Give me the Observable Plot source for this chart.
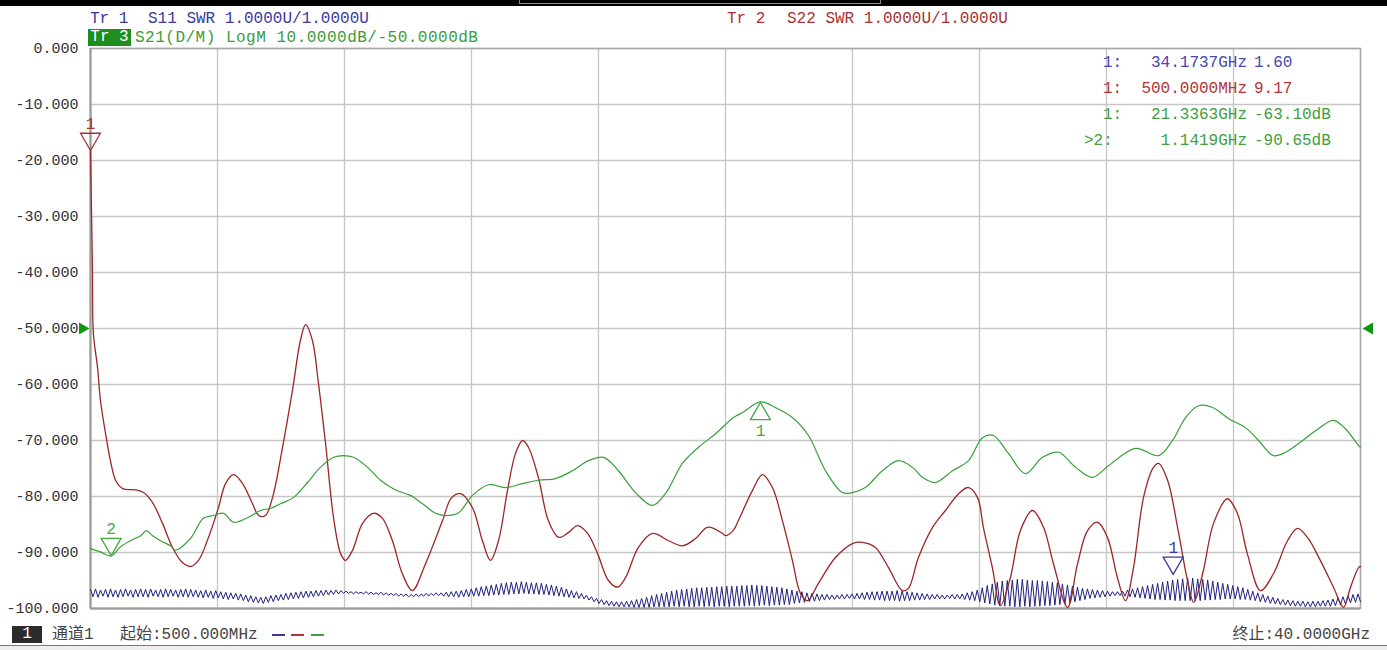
<!DOCTYPE html>
<html><head><meta charset="utf-8">
<script src="https://cdn.jsdelivr.net/npm/d3@7"></script>
<script src="https://cdn.jsdelivr.net/npm/@observablehq/plot@0.6"></script>
<style>
html,body{margin:0;padding:0;background:#fff;}
body{width:1387px;height:650px;overflow:hidden;position:relative;font-family:"Liberation Mono","Noto Sans CJK SC",monospace;}
#chart{position:absolute;left:0;top:0;}
.t{position:absolute;white-space:pre;font-size:16px;line-height:18px;}
</style></head><body>
<div id="chart"></div>
<script>
// ---- sweep / axes ----
const sweepStart = 0.5;   // GHz
const sweepStop = 40;     // GHz
const xGrid = [0.5, 4.45, 8.4, 12.35, 16.3, 20.25, 24.2, 28.15, 32.1, 36.05, 40];
const yTicks = [0, -10, -20, -30, -40, -50, -60, -70, -80, -90, -100];

// ---- Tr 3 : S21 (green), [GHz, dB] ----
const s21Trace = [
[0.50,-89.3],[0.81,-89.9],[1.15,-90.6],[1.43,-89.0],[1.74,-87.9],[2.06,-87.0],[2.24,-86.1],[2.43,-87.0],
[2.68,-87.9],[2.99,-88.8],[3.14,-89.6],[3.61,-87.5],[4.01,-83.9],[4.33,-83.4],[4.64,-83.0],[4.95,-84.6],
[5.38,-83.8],[5.79,-82.5],[6.10,-82.1],[6.41,-81.3],[6.81,-80.2],[7.25,-77.5],[7.65,-74.8],[8.06,-73.0],
[8.37,-72.7],[8.68,-73.0],[9.12,-74.8],[9.52,-77.1],[9.92,-78.6],[10.30,-79.5],[10.45,-79.8],[10.83,-81.3],
[11.23,-83.0],[11.54,-83.4],[11.95,-82.9],[12.38,-79.8],[12.88,-77.9],[13.41,-78.4],[13.94,-77.7],[14.43,-77.1],
[14.96,-76.8],[15.49,-75.4],[15.99,-73.6],[16.46,-73.0],[16.92,-75.4],[17.45,-79.3],[17.98,-81.6],[18.38,-79.5],
[18.91,-74.1],[19.41,-71.2],[19.94,-68.8],[20.50,-65.9],[20.78,-65.0],[21.34,-63.1],[21.80,-64.1],[22.33,-65.9],
[22.83,-69.1],[23.36,-75.4],[23.89,-79.3],[24.20,-79.3],[24.60,-78.4],[25.13,-75.4],[25.63,-73.6],[26.07,-74.8],
[26.38,-76.6],[26.78,-77.5],[27.31,-75.4],[27.81,-73.6],[28.24,-69.5],[28.58,-69.1],[29.05,-72.3],[29.58,-75.9],
[30.11,-73.0],[30.61,-72.1],[31.14,-74.8],[31.66,-76.6],[32.16,-74.5],[33.00,-71.4],[33.72,-72.7],[34.15,-70.0],
[34.56,-65.9],[34.96,-63.8],[35.40,-64.1],[35.90,-66.1],[36.42,-67.7],[36.83,-70.0],[37.29,-72.7],[37.67,-72.1],
[38.20,-70.0],[38.69,-67.9],[39.16,-66.4],[39.53,-67.9],[39.94,-70.9],[40.00,-71.2]
];

// ---- Tr 2 : S22 SWR (red), in display units of the grid ----
const s22Trace = [
[0.50,-18.3],[0.56,-39.1],[0.59,-50.9],[0.72,-57.0],[0.81,-62.9],[0.97,-68.8],[1.12,-73.6],[1.28,-77.1],
[1.50,-78.6],[1.90,-78.8],[2.15,-79.3],[2.43,-81.1],[2.74,-84.8],[3.05,-89.1],[3.36,-91.8],[3.61,-92.5],
[3.86,-91.4],[4.17,-87.3],[4.48,-82.0],[4.70,-77.7],[4.95,-76.1],[5.23,-77.7],[5.54,-81.3],[5.73,-83.4],
[5.94,-83.4],[6.16,-80.2],[6.47,-71.3],[6.78,-61.1],[7.03,-52.1],[7.19,-49.3],[7.40,-52.1],[7.59,-59.8],
[7.81,-70.5],[8.06,-83.8],[8.28,-90.2],[8.43,-91.4],[8.65,-89.6],[8.96,-84.8],[9.30,-83.0],[9.58,-83.9],
[9.89,-87.9],[10.20,-93.8],[10.51,-96.8],[10.92,-92.0],[11.45,-84.3],[11.73,-80.2],[12.01,-79.5],[12.38,-82.0],
[12.69,-87.9],[12.94,-91.4],[13.19,-87.9],[13.47,-78.9],[13.72,-72.3],[13.94,-70.0],[14.12,-71.2],[14.43,-76.6],
[14.74,-84.3],[15.06,-87.3],[15.37,-86.4],[15.65,-85.2],[15.96,-86.6],[16.27,-90.2],[16.61,-95.0],[16.89,-96.2],
[17.14,-94.5],[17.54,-89.1],[17.98,-86.6],[18.48,-87.9],[18.91,-88.8],[19.32,-87.5],[19.69,-85.5],[20.16,-86.6],
[20.25,-87.0],[20.50,-86.0],[20.65,-84.3],[21.09,-78.9],[21.40,-76.1],[21.71,-78.4],[22.02,-84.3],[22.33,-91.4],
[22.58,-97.3],[22.80,-98.6],[23.14,-95.5],[23.67,-90.9],[24.20,-88.4],[24.51,-88.2],[24.91,-89.1],[25.32,-92.7],
[25.75,-96.8],[25.94,-96.4],[26.25,-90.9],[26.69,-85.5],[27.09,-82.5],[27.50,-79.5],[27.81,-78.4],[28.09,-80.2],
[28.27,-85.5],[28.55,-92.7],[28.80,-99.5],[29.11,-94.5],[29.42,-86.1],[29.80,-82.5],[30.14,-85.5],[30.45,-92.0],
[30.89,-99.8],[31.20,-92.0],[31.51,-86.1],[31.82,-84.6],[32.13,-87.3],[32.44,-94.5],[32.69,-98.6],[32.94,-92.7],
[33.25,-80.2],[33.56,-74.8],[33.72,-74.1],[34.00,-77.1],[34.31,-85.5],[34.62,-95.0],[34.81,-98.9],[35.09,-93.8],
[35.43,-84.8],[35.86,-80.4],[36.17,-83.0],[36.48,-90.2],[36.89,-96.8],[37.29,-93.8],[37.73,-87.9],[38.04,-85.7],
[38.35,-87.3],[38.75,-91.4],[39.16,-96.2],[39.47,-99.8],[39.69,-96.2],[39.94,-92.7],[40.00,-92.5]
];

// ---- Tr 1 : S11 SWR (blue), uniform sweep points, display units ----
const s11Values = [
-96.6,-97.9,-96.5,-98.0,-96.7,-97.8,-96.6,-98.0,-96.5,-97.9,-96.7,-98.0,-96.6,-97.9,-96.5,-97.8,-96.7,-98.0,-96.6,-97.9,
-96.5,-97.9,-96.6,-98.0,-96.5,-97.8,-96.7,-97.9,-96.6,-98.0,-96.5,-97.9,-96.6,-97.8,-96.7,-98.0,-96.6,-97.9,-96.5,-98.0,
-96.6,-97.9,-96.7,-98.0,-96.8,-98.1,-96.7,-98.0,-96.9,-98.2,-96.8,-98.1,-97.0,-98.3,-97.1,-98.4,-97.2,-98.3,-97.3,-98.5,
-97.4,-98.6,-97.6,-98.8,-97.7,-98.9,-97.9,-99.0,-98.0,-99.1,-97.9,-98.9,-97.7,-98.8,-97.6,-98.6,-97.5,-98.5,-97.3,-98.4,
-97.2,-98.3,-97.1,-98.2,-97.0,-98.1,-96.9,-98.0,-96.9,-97.9,-96.8,-97.8,-96.8,-97.7,-96.7,-97.6,-96.8,-97.5,-96.7,-97.4,
-96.8,-97.3,-96.9,-97.3,-97.0,-97.4,-97.0,-97.3,-97.1,-97.4,-97.0,-97.4,-97.1,-97.5,-97.2,-97.5,-97.1,-97.6,-97.2,-97.6,
-97.3,-97.7,-97.3,-97.8,-97.4,-97.8,-97.4,-97.9,-97.5,-97.9,-97.4,-97.9,-97.4,-97.8,-97.3,-97.8,-97.3,-97.7,-97.2,-97.7,
-97.2,-97.8,-97.1,-97.9,-97.0,-97.9,-96.9,-98.0,-96.8,-97.9,-96.6,-97.9,-96.5,-97.8,-96.3,-97.8,-96.1,-97.7,-96.0,-97.7,
-95.8,-97.6,-95.7,-97.6,-95.5,-97.5,-95.4,-97.5,-95.3,-97.4,-95.3,-97.4,-95.2,-97.3,-95.3,-97.4,-95.4,-97.4,-95.4,-97.5,
-95.5,-97.5,-95.7,-97.6,-95.8,-97.7,-96.0,-97.8,-96.2,-97.9,-96.5,-98.0,-96.8,-98.1,-97.0,-98.2,-97.3,-98.3,-97.6,-98.5,
-97.9,-98.8,-98.2,-99.1,-98.4,-99.3,-98.6,-99.5,-98.7,-99.6,-98.8,-99.7,-98.8,-99.7,-98.7,-99.7,-98.6,-99.8,-98.4,-99.8,
-98.2,-99.8,-98.0,-99.8,-97.7,-99.7,-97.5,-99.7,-97.3,-99.7,-97.1,-99.7,-96.9,-99.6,-96.7,-99.7,-96.6,-99.6,-96.5,-99.7,
-96.4,-99.7,-96.3,-99.6,-96.3,-99.7,-96.2,-99.6,-96.2,-99.7,-96.1,-99.6,-96.1,-99.6,-96.0,-99.7,-96.0,-99.6,-96.0,-99.6,
-95.9,-99.6,-95.9,-99.5,-95.8,-99.6,-95.9,-99.5,-95.9,-99.4,-96.0,-99.5,-96.1,-99.4,-96.2,-99.4,-96.3,-99.3,-96.5,-99.3,
-96.7,-99.1,-96.9,-99.0,-97.0,-98.9,-97.2,-98.8,-97.3,-98.7,-97.4,-98.6,-97.5,-98.5,-97.5,-98.4,-97.6,-98.4,-97.6,-98.3,
-97.5,-98.3,-97.5,-98.2,-97.4,-98.3,-97.3,-98.3,-97.2,-98.4,-97.1,-98.4,-97.0,-98.5,-97.0,-98.5,-96.9,-98.6,-96.9,-98.6,
-96.9,-98.6,-96.8,-98.7,-96.9,-98.6,-97.0,-98.6,-97.1,-98.5,-97.2,-98.5,-97.3,-98.4,-97.4,-98.4,-97.5,-98.3,-97.5,-98.3,
-97.6,-98.3,-97.6,-98.2,-97.5,-98.3,-97.5,-98.3,-97.4,-98.4,-97.2,-98.5,-97.0,-98.6,-96.7,-98.8,-96.3,-99.0,-95.9,-99.2,
-95.6,-99.4,-95.3,-99.5,-95.1,-99.6,-95.0,-99.6,-94.9,-99.7,-94.8,-99.7,-94.8,-99.6,-94.9,-99.7,-95.0,-99.6,-95.0,-99.6,
-95.1,-99.5,-95.2,-99.5,-95.3,-99.4,-95.4,-99.3,-95.6,-99.2,-95.8,-99.0,-96.0,-98.8,-96.2,-98.6,-96.4,-98.4,-96.5,-98.2,
-96.6,-98.1,-96.7,-98.0,-96.8,-97.9,-96.9,-97.8,-97.0,-97.7,-97.0,-97.7,-96.9,-97.8,-96.7,-97.9,-96.5,-98.0,-96.3,-98.1,
-96.1,-98.2,-95.9,-98.3,-95.7,-98.4,-95.5,-98.4,-95.3,-98.5,-95.1,-98.5,-94.9,-98.6,-94.8,-98.6,-94.7,-98.6,-94.6,-98.6,
-94.6,-98.6,-94.7,-98.6,-94.8,-98.5,-94.9,-98.5,-95.1,-98.4,-95.3,-98.4,-95.5,-98.3,-95.7,-98.3,-95.9,-98.3,-96.1,-98.4,
-96.3,-98.4,-96.6,-98.5,-96.9,-98.6,-97.2,-98.8,-97.5,-98.9,-97.8,-99.1,-98.0,-99.2,-98.2,-99.3,-98.4,-99.4,-98.5,-99.5,
-98.6,-99.6,-98.7,-99.6,-98.7,-99.7,-98.8,-99.7,-98.7,-99.7,-98.7,-99.6,-98.6,-99.6,-98.5,-99.6,-98.3,-99.5,-98.1,-99.4,
-97.9,-99.2,-97.7,-99.0,-97.5,-98.9,-97.4,-98.8
];

// ---- markers ----
const markers = [
  {trace:"Tr2", f:0.5, v:-18.3, label:"1", dir:"down", color:"#a83030"},
  {trace:"Tr3", f:1.1419, v:-90.65, label:"2", dir:"down", color:"#44a844"},
  {trace:"Tr3", f:21.3363, v:-63.10, label:"1", dir:"up", color:"#44a844"},
  {trace:"Tr1", f:34.1737, v:-94.0, label:"1", dir:"down", color:"#3a3aa0"}
];
const refLevel = -50;

const cBlue = "#1f1f80", cRed = "#9c2626", cGreen = "#38a038";

const s11Data = s11Values.map((v, i) => ({f: sweepStart + i * (sweepStop - sweepStart) / (s11Values.length - 1), v}));
const s21Data = s21Trace.map(([f, v]) => ({f, v}));
const s22Data = s22Trace.map(([f, v]) => ({f, v}));
const downMk = markers.filter(d => d.dir === "down");
const upMk = markers.filter(d => d.dir === "up");

const plot = Plot.plot({
  width: 1387, height: 650,
  marginLeft: 90, marginRight: 27, marginTop: 48, marginBottom: 42,
  x: {domain: [sweepStart, sweepStop], axis: null},
  y: {domain: [-100, 0], ticks: yTicks, tickFormat: d => d.toFixed(3), tickSize: 0, tickPadding: 12, label: null},
  style: {fontFamily: "Liberation Mono, monospace", fontSize: "15px", color: "#333", background: "#fff", overflow: "visible"},
  marks: [
    Plot.ruleX(xGrid, {stroke: "#c6c6c6", strokeWidth: 1.3}),
    Plot.ruleY(yTicks, {stroke: "#c6c6c6", strokeWidth: 1.3}),
    Plot.frame({stroke: "#a8a8a8", strokeWidth: 1.5}),
    Plot.ruleX([sweepStart], {stroke: "#9a9a9a", strokeWidth: 2}),
    Plot.ruleY([-100], {stroke: "#9a9a9a", strokeWidth: 2}),
    Plot.line(s11Data, {x: "f", y: "v", stroke: cBlue, strokeWidth: 1}),
    Plot.line(s22Data, {x: "f", y: "v", stroke: cRed, strokeWidth: 1.3, curve: "catmull-rom"}),
    Plot.line(s21Data, {x: "f", y: "v", stroke: cGreen, strokeWidth: 1.2, curve: "catmull-rom"}),
    Plot.dot([{f: sweepStart, v: refLevel}], {x: "f", y: "v", symbol: "triangle", rotate: 90, r: 4.5, fill: "#0e960e", stroke: null, dx: -8}),
    Plot.dot([{f: sweepStop, v: refLevel}], {x: "f", y: "v", symbol: "triangle", rotate: -90, r: 4.5, fill: "#0e960e", stroke: null, dx: 9}),
    Plot.dot(downMk, {x: "f", y: "v", symbol: "triangle", rotate: 180, r: 7.4, fill: "none", stroke: "color", strokeWidth: 1.3, dy: -12}),
    Plot.dot(upMk, {x: "f", y: "v", symbol: "triangle", r: 7.4, fill: "none", stroke: "color", strokeWidth: 1.3, dy: 12}),
    Plot.text(downMk, {x: "f", y: "v", text: "label", fill: "color", dy: -27, fontSize: 16}),
    Plot.text(upMk, {x: "f", y: "v", text: "label", fill: "color", dy: 29, fontSize: 16})
  ]
});
document.getElementById("chart").appendChild(plot);

// ---- text overlays ----
const texts = [
  {s:"Tr 1", x:90, y:19, c:"#3b3b9b"},
  {s:"S11 SWR 1.0000U/1.0000U", x:148, y:19, c:"#3b3b9b"},
  {s:"Tr 2", x:727, y:19, c:"#a83232"},
  {s:"S22 SWR 1.0000U/1.0000U", x:787, y:19, c:"#a83232"},
  {s:"1:", x:1103, y:63, c:"#4646b0"},
  {s:"1:", x:1103, y:89, c:"#b03535"},
  {s:"1:", x:1103, y:115, c:"#40a040"},
  {s:">2:", x:1084, y:141, c:"#40a040"},
  {s:"1.60", x:1254, y:63, c:"#4646b0"},
  {s:"9.17", x:1254, y:89, c:"#b03535"},
  {s:"-63.10dB", x:1254, y:115, c:"#40a040"},
  {s:"-90.65dB", x:1254, y:141, c:"#40a040"},
  {s:"通道1", x:52, y:635, c:"#444"},
  {s:"起始:500.000MHz", x:120, y:635, c:"#444"}
];
const rtexts = [
  {s:"34.1737GHz", r:1247, y:63, c:"#4646b0"},
  {s:"500.0000MHz", r:1247, y:89, c:"#b03535"},
  {s:"21.3363GHz", r:1247, y:115, c:"#40a040"},
  {s:"1.1419GHz", r:1247, y:141, c:"#40a040"},
  {s:"终止:40.0000GHz", r:1370, y:635, c:"#444"}
];
function addText(str, css){const d=document.createElement("div");d.className="t";d.textContent=str;Object.assign(d.style,css);document.body.appendChild(d);return d;}
function addBox(css){const d=document.createElement("div");d.style.position="absolute";Object.assign(d.style,css);document.body.appendChild(d);return d;}
texts.forEach(t => addText(t.s, {left:t.x+"px", top:(t.y-9)+"px", color:t.c}));
rtexts.forEach(t => addText(t.s, {right:(1387-t.r)+"px", top:(t.y-9)+"px", color:t.c, textAlign:"right"}));
addText("S21(D/M) LogM 10.0000dB/-50.0000dB", {left:"135px", top:"29px", color:"#3c9c3c", letterSpacing:"0.5px"});
addText("Tr 3", {left:"88px", top:"29px", width:"43px", height:"17px", lineHeight:"17px", background:"#1e8e1e", color:"#fff", textAlign:"center"});
addText("1", {left:"12px", top:"626px", width:"30px", height:"17px", lineHeight:"17px", background:"#2b2b2b", color:"#fff", textAlign:"center"});
[["#3a3aa0",272],["#b03535",291],["#40a040",311]].forEach(([c,x]) => addBox({left:x+"px",top:"634px",width:"13px",height:"0",borderTop:"2px solid "+c}));
addBox({left:"0",top:"0",width:"1387px",height:"6px",background:"#000"});
addBox({left:"519px",top:"0",width:"360px",height:"3px",borderBottom:"1px solid #888",borderLeft:"1px solid #888",borderRight:"1px solid #888"});
addBox({left:"0",top:"645px",width:"1387px",height:"5px",background:"#eee",borderTop:"1px solid #777"});
</script>
</body></html>
